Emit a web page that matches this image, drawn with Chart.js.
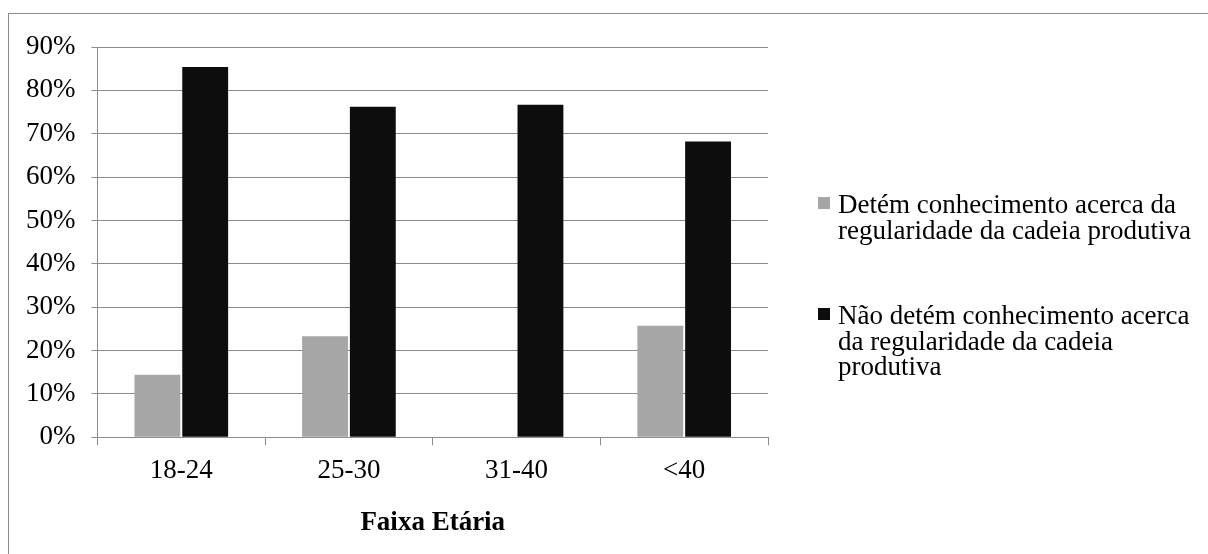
<!DOCTYPE html>
<html>
<head>
<meta charset="utf-8">
<title>Faixa Etária</title>
<script src="https://cdn.jsdelivr.net/npm/chart.js@4"></script>
<style>
  html, body { margin: 0; padding: 0; background: #fff; }
  canvas { display: block; }
</style>
</head>
<body>
<canvas id="chart" width="1208" height="554"></canvas>
<script>
// categories and values (percent)
const faixas = ['18-24', '25-30', '31-40', '<40'];
const detem = [14.4, 23.3, 0, 25.7];
const naoDetem = [85.4, 76.2, 76.7, 68.2];
const yTicks = [0, 10, 20, 30, 40, 50, 60, 70, 80, 90];

// legend text, already broken in lines like the original
const legendLines = [
  ['Detém conhecimento acerca da', 'regularidade da cadeia produtiva'],
  ['Não detém conhecimento acerca', 'da regularidade da cadeia', 'produtiva']
];

const serif = '"Liberation Serif", "Times New Roman", serif';

// frame around the whole chart
const framePlugin = {
  id: 'frame',
  beforeDraw(chart) {
    const ctx = chart.ctx;
    ctx.save();
    ctx.fillStyle = '#fff';
    ctx.fillRect(0, 0, chart.width, chart.height);
    ctx.strokeStyle = '#8c8c8c';
    ctx.lineWidth = 1;
    ctx.strokeRect(8.5, 13.5, 1400, 700);
    ctx.restore();
  }
};

// legend on the right, with wrapped text
const sideLegend = {
  id: 'sideLegend',
  afterDraw(chart) {
    const ctx = chart.ctx;
    ctx.save();
    ctx.font = '27px ' + serif;
    ctx.textBaseline = 'alphabetic';
    ctx.textAlign = 'left';
    const startY = [213, 324];
    chart.data.datasets.forEach((ds, i) => {
      const y0 = startY[i];
      ctx.fillStyle = ds.backgroundColor;
      ctx.fillRect(818, y0 - 16, 12, 12);
      ctx.fillStyle = '#000';
      legendLines[i].forEach((line, j) => {
        ctx.fillText(line, 838, y0 + j * 25.5);
      });
    });
    ctx.restore();
  }
};

new Chart(document.getElementById('chart').getContext('2d'), {
  type: 'bar',
  data: {
    labels: faixas,
    datasets: [
      {
        label: legendLines[0].join(' '),
        data: detem,
        backgroundColor: '#a6a6a6',
        borderWidth: 0,
        categoryPercentage: 0.57,
        barPercentage: 0.96
      },
      {
        label: legendLines[1].join(' '),
        data: naoDetem,
        backgroundColor: '#0d0d0d',
        borderWidth: 0,
        categoryPercentage: 0.57,
        barPercentage: 0.96
      }
    ]
  },
  options: {
    responsive: false,
    animation: false,
    layout: {
      padding: { left: 10, top: 47, right: 440, bottom: 15 }
    },
    plugins: {
      legend: { display: false },
      tooltip: { enabled: false }
    },
    scales: {
      x: {
        offset: true,
        grid: {
          offset: true,
          drawOnChartArea: false,
          drawTicks: true,
          tickLength: 8,
          color: '#8c8c8c'
        },
        border: { color: '#8c8c8c' },
        ticks: {
          color: '#000',
          font: { family: serif, size: 27 },
          padding: 10
        },
        title: {
          display: true,
          text: 'Faixa Etária',
          color: '#000',
          font: { family: serif, size: 27, weight: 'bold' },
          padding: { top: 9, bottom: 0 }
        }
      },
      y: {
        min: 0,
        max: 90,
        afterBuildTicks(axis) {
          axis.ticks = yTicks.map(v => ({ value: v }));
        },
        grid: {
          color: '#8c8c8c',
          tickLength: 6
        },
        border: { color: '#8c8c8c' },
        ticks: {
          color: '#000',
          font: { family: serif, size: 27 },
          padding: 16,
          callback: v => v + '%'
        }
      }
    }
  },
  plugins: [framePlugin, sideLegend]
});
</script>
</body>
</html>
